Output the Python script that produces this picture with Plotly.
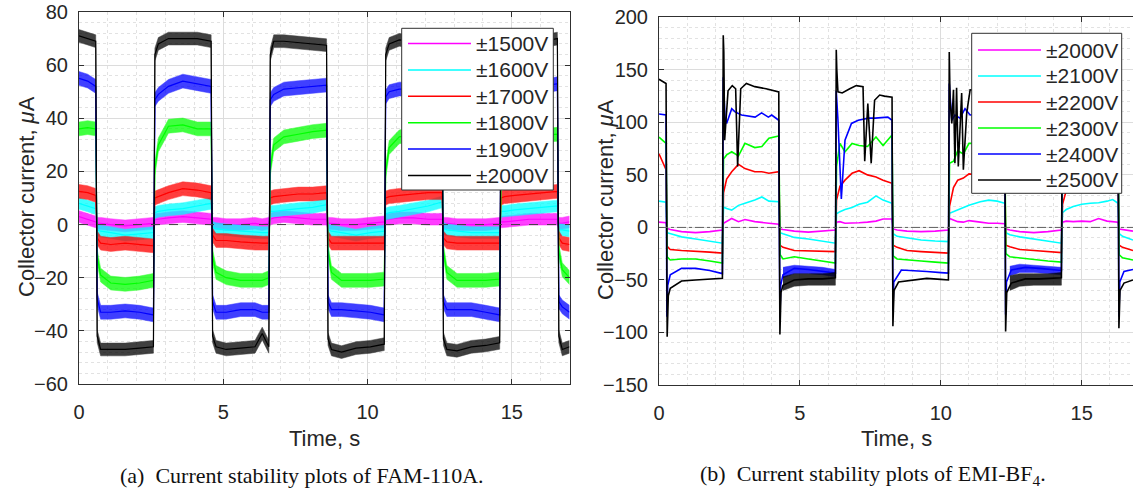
import plotly.graph_objects as go

W, H = 1133, 490
SANS = "Liberation Sans, Arial, sans-serif"
SERIF = "Liberation Serif, Times New Roman, serif"
FRAME = "#303030"
TXT = "#262626"

series_colors = ["#ff00ff", "#00ffff", "#ff0000", "#00ff00", "#0000ff", "#000000"]

# ---------------- (a) FAM-110A ----------------
fam_labels = ["±1500V", "±1600V", "±1700V", "±1800V", "±1900V", "±2000V"]

t_fam = [0.0, 0.3, 0.58,
         0.63, 0.75, 1.1, 1.6, 2.1, 2.58,
         2.63, 2.75, 3.1, 3.6, 4.1, 4.58,
         4.63, 4.75, 5.1, 5.6, 6.1, 6.35, 6.58,
         6.63, 6.75, 7.1, 7.6, 8.1, 8.58,
         8.63, 8.75, 9.1, 9.6, 10.1, 10.58,
         10.63, 10.75, 11.1, 11.6, 12.1, 12.58,
         12.63, 12.75, 13.1, 13.6, 14.1, 14.58,
         14.63, 14.75, 15.1, 15.6, 16.1, 16.58,
         16.63, 16.75, 17.0]

fam_1500 = [3, 2, 1,
            0.5, 0.5, 0, -0.5, 0, 0.5,
            2, 2, 2.5, 3, 2.5, 2,
            0.5, 0.5, 0, 0, 0.5, 0, 0.5,
            2, 2.5, 3, 2.5, 2, 2,
            0.5, 0.5, 0, 0, 0.5, 1,
            2, 2, 2.5, 2.5, 2, 2,
            0.5, 0.5, 0, 0, 0, 0.5,
            1, 1, 1.5, 2, 2, 2,
            0.5, 0.5, 1]
fam_1600 = [8, 7, 6,
            -2, -2.5, -3, -4, -3.5, -3,
            4.5, 5, 5.5, 6, 7, 8,
            -1, -1.5, -2, -2.5, -3, -3, -3,
            5, 5, 5.5, 6, 6.5, 7.5,
            -2, -2.5, -3, -4, -3, -2.5,
            4, 4.5, 5, 6, 7, 8.5,
            -1.5, -2, -2.5, -3, -3, -3,
            5, 5, 5.5, 6, 6.5, 7,
            -2, -2, -2.5]
fam_1700 = [12.5, 12, 11,
            -5, -7, -7.5, -7, -7.5, -8,
            10, 10.5, 12, 13.5, 13, 12,
            -4, -6, -6, -6.5, -7, -7, -7,
            10, 10.5, 11, 11.5, 11.5, 12,
            -5, -7, -7, -7, -7, -7,
            10, 10.5, 11, 11.5, 12, 12,
            -5, -6.5, -7, -7, -7, -7,
            10, 10.5, 11, 11.5, 12, 12.5,
            -5, -7, -7.5]
fam_1800 = [36, 36.5, 36,
            -12, -19, -22, -22.5, -22, -21,
            21, 30, 37, 37.5, 36, 36,
            -12, -18, -20, -21, -21, -21, -20,
            21, 30, 33, 34, 35, 35.5,
            -10, -18, -21, -21, -21, -20.5,
            20, 29, 33, 34, 34.5, 35,
            -10, -18, -21, -21, -21, -20.5,
            20, 29, 33, 33, 33.5, 34,
            -10, -17, -20]
fam_1900 = [55, 54, 52,
            -28, -33, -33, -32.5, -33, -34,
            47, 49, 52, 54, 53, 52,
            -29, -33, -33, -32, -32, -33, -33,
            47, 49, 51, 51.5, 52, 52.5,
            -29, -32, -32, -32.5, -33, -34,
            48, 50, 51, 51, 51, 51,
            -29, -32, -32, -32, -33, -34,
            48, 50, 51, 51, 52, 53,
            -29, -31, -33]
fam_2000 = [71, 70, 69,
            -42, -47, -47, -47, -46.5, -46,
            64, 68, 70, 70, 70, 69,
            -42, -46, -47, -46.5, -46, -41, -46,
            64, 69, 69, 68.5, 68, 67.5,
            -43, -47, -48, -46.5, -46, -45,
            64, 68, 69.5, 69, 69, 69,
            -43, -47, -47.5, -46, -45.5, -44.5,
            64, 68, 69, 69, 69, 70,
            -42, -47, -46]

# half-width of the measurement noise around each FAM-110A trace, μA
fam_noise = [2.2, 2.2, 2.6, 2.6, 2.6, 2.4]

# ---------------- (b) EMI-BF4 ----------------
emi_labels = ["±2000V", "±2100V", "±2200V", "±2300V", "±2400V", "±2500V"]

t_emi = [0.0, 0.25,
         0.29, 0.4, 0.8, 1.3, 1.8, 2.25,
         2.29, 2.4, 2.58, 2.82, 3.05, 3.4, 3.65, 3.9, 4.25,
         4.30, 4.4, 4.8, 5.3, 5.8, 6.26,
         6.30, 6.42, 6.6, 6.85, 7.1, 7.4, 7.7, 7.95, 8.27,
         8.31, 8.45, 8.8, 9.3, 9.8, 10.27,
         10.31, 10.45, 10.6, 10.8, 11.0, 11.4, 11.7, 12.0, 12.27,
         12.31, 12.45, 12.8, 13.3, 13.8, 14.28,
         14.32, 14.45, 14.7, 15.0, 15.3, 15.6, 15.9, 16.1, 16.29,
         16.33, 16.45, 16.82]

emi_2000 = [5, 4.5,
            -1, -2, -4, -5, -4, -2.5,
            4, 6, 8.5, 5.5, 7.5, 5.5, 5, 4, 3,
            -1.5, -2, -3.5, -4.5, -3.5, -2.5,
            5, 5.5, 4, 4, 4.5, 5, 6, 8, 8,
            -1.5, -2.5, -3.5, -4, -3.5, -2.5,
            8.5, 7, 5.5, 5, 6.5, 5, 4, 4, 3.5,
            -1.5, -2.5, -4, -5, -4, -2.5,
            5, 6, 5.5, 6, 5.5, 8.5, 6, 5.5, 5,
            -1.5, -2, -3.5]
emi_2100 = [25, 24,
            -5, -6, -9, -11, -13, -15,
            19.5, 18, 16.5, 21, 23, 26, 29, 25, 24.5,
            -5, -6, -9.5, -11, -13, -15,
            13, 15, 17, 19, 22, 24, 30, 26, 23,
            -6, -8.5, -10, -12, -13, -13.5,
            13.5, 15, 16.5, 19, 21, 24.5, 26, 25, 23,
            -5, -7, -9, -11, -13, -15,
            14, 17, 20, 22, 23, 23.5, 25, 26.5, 23,
            -6, -8.5, -12]
emi_2200 = [70, 55,
            -18, -21, -22, -22.5, -23.5, -24.5,
            33, 46, 53, 60, 56, 53, 53, 51.5, 53,
            -17, -19, -22, -22.5, -23, -23,
            26, 39, 45, 51.5, 54, 50, 48, 45, 42,
            -17, -19, -22, -23, -24, -24.5,
            20, 38, 45, 47, 51, 50, 49, 48, 47,
            -17, -18.5, -21, -22, -23, -24,
            22, 35, 42, 46, 48, 48, 47, 46, 45,
            -17, -19, -22]
emi_2300 = [86, 80,
            -28, -31, -30, -30, -32, -34,
            65, 69, 72, 68, 80, 76, 77, 85, 87,
            -26, -30, -28, -30, -32, -34,
            58, 80, 72, 80, 78, 77, 86, 78, 88,
            -27, -30, -31, -32, -33, -34,
            61, 63, 73, 70, 80, 80, 82, 80, 82,
            -25, -28, -29, -31, -32, -33,
            60, 68, 74, 78, 80, 80, 82, 82, 83,
            -26, -29, -31]

t_emi_2400 = [0.0, 0.25,
              0.28, 0.31, 0.4, 0.8, 1.3, 1.8, 2.25,
              2.28, 2.34, 2.4, 2.58, 2.7, 2.93, 3.2, 3.41, 3.64, 3.88, 4.0, 4.25,
              4.29, 4.32, 4.4, 4.8, 5.3, 5.8, 6.26,
              6.29, 6.35, 6.47, 6.6, 6.83, 7.07, 7.43, 7.67, 8.12, 8.27,
              8.30, 8.33, 8.6, 9.0, 9.5, 10.0, 10.27,
              10.3, 10.39, 10.5, 10.68, 10.86, 11.04, 11.5, 12.0, 12.27,
              12.30, 12.33, 12.5, 13.0, 13.5, 14.0, 14.28,
              14.32, 14.6, 15.0, 15.5, 16.0, 16.29,
              16.32, 16.35, 16.5, 16.82]
emi_2400 = [108, 107,
            -85, -55, -45, -39, -39, -41, -44,
            143, 105, 99, 113, 110, 107, 106, 105, 109, 105, 107, 102,
            -86, -55, -45, -39, -40, -41.5, -43.5,
            130, 102, 27, 83, 99, 102, 104, 104, 105, 102,
            -79, -52, -40.5, -41, -42, -43, -43.5,
            137, 102, 107, 104, 113, 107, 108, 106, 105,
            -83, -52, -40.5, -38, -39, -40, -41,
            130, 104, 106, 107, 106, 105,
            -85, -52, -42, -40]

t_emi_2500 = [0.0, 0.25,
              0.29, 0.33, 0.4, 0.8, 1.3, 1.8, 2.25,
              2.28, 2.30, 2.33, 2.45, 2.6, 2.72, 2.79, 2.9, 3.1, 3.4, 3.8, 4.25,
              4.29, 4.33, 4.4, 4.8, 5.3, 5.8, 6.26,
              6.29, 6.31, 6.35, 6.5, 6.77, 7.0, 7.24, 7.3, 7.41, 7.53, 7.65, 7.83, 8.0, 8.27,
              8.30, 8.34, 8.5, 9.0, 9.5, 10.0, 10.27,
              10.30, 10.33, 10.39, 10.45, 10.5, 10.56, 10.62, 10.74, 10.8, 10.92, 11.04, 11.5, 12.0, 12.27,
              12.30, 12.34, 12.5, 13.0, 13.5, 14.0, 14.28,
              14.32, 14.6, 15.0, 15.5, 16.0, 16.29,
              16.32, 16.36, 16.5, 16.82]
emi_2500 = [141, 137,
            -104, -65, -58, -51, -50, -49, -48.5,
            183, 167, 83, 130, 135, 132, 58, 132, 137, 134, 132, 129,
            -102, -62, -55, -50, -49, -49, -48,
            169, 150, 129, 128, 132, 135, 134, 63, 118, 61, 121, 126, 125, 124,
            -94, -60, -52, -50, -48.5, -49.5, -50,
            167, 120, 99, 131, 61, 133, 58, 128, 55, 109, 131, 130, 128, 127,
            -99, -62, -53, -49, -49, -48.5, -48,
            165, 130, 132, 130, 128, 126,
            -96, -60, -53, -50]

# dense-noise envelopes of the ±2400V / ±2500V negative half-cycles
band_t = [[4.4, 4.8, 5.3, 5.8, 6.26], [12.45, 12.8, 13.3, 13.8, 14.28]]
band_2400_hi = [[-38, -36, -37, -38, -40], [-37, -35, -36, -37, -38]]
band_2400_lo = [[-48, -44, -44, -45, -47], [-46, -43, -43, -44, -45]]
band_2500_hi = [[-47, -44, -44, -44, -43], [-46, -44, -44, -44, -43]]
band_2500_lo = [[-60, -56, -55, -55, -55], [-60, -56, -55, -55, -55]]

fam_series = [(t_fam, fam_1500), (t_fam, fam_1600), (t_fam, fam_1700),
              (t_fam, fam_1800), (t_fam, fam_1900), (t_fam, fam_2000)]
emi_series = [(t_emi, emi_2000), (t_emi, emi_2100), (t_emi, emi_2200),
              (t_emi, emi_2300), (t_emi_2400, emi_2400), (t_emi_2500, emi_2500)]

fig = go.Figure()

# (a): noise ribbon plus centre trace for every bias voltage
for (t, v), spread, name, col in zip(fam_series, fam_noise, fam_labels, series_colors):
    upper = [val + spread for val in v]
    lower = [val - spread for val in v]
    fig.add_trace(go.Scatter(x=list(t) + list(t)[::-1], y=upper + lower[::-1],
                             mode="lines", fill="toself", fillcolor=col, opacity=0.75,
                             line=dict(color=col, width=0.5), xaxis="x", yaxis="y",
                             hoverinfo="skip", showlegend=False))
    fig.add_trace(go.Scatter(x=t, y=v, mode="lines", name=name,
                             line=dict(color=col, width=1.2), xaxis="x", yaxis="y",
                             showlegend=False))

# (b): thin traces, with noise envelopes for the two highest voltages
for (t, v), name, col in zip(emi_series, emi_labels, series_colors):
    if name == "±2400V":
        his, los = band_2400_hi, band_2400_lo
    elif name == "±2500V":
        his, los = band_2500_hi, band_2500_lo
    else:
        his, los = [], []
    for bt, hi, lo in zip(band_t, his, los):
        fig.add_trace(go.Scatter(x=bt + bt[::-1], y=hi + lo[::-1], mode="lines",
                                 fill="toself", fillcolor=col, opacity=0.8,
                                 line=dict(color=col, width=0.5), xaxis="x2", yaxis="y2",
                                 hoverinfo="skip", showlegend=False))
    fig.add_trace(go.Scatter(x=t, y=v, mode="lines", name=name,
                             line=dict(color=col, width=1.6), xaxis="x2", yaxis="y2",
                             showlegend=False))


def px(p):
    return p / W


def py(p):
    return 1 - p / H


FAM_XMAX = 17.0
EMI_XMAX = 16.82


def make_x(domain, xmax, mirror):
    return dict(domain=domain, range=[0, xmax], tickmode="linear", tick0=0, dtick=5,
                showline=True, linecolor=FRAME, linewidth=1, mirror=mirror,
                ticks="inside", ticklen=5, tickcolor=FRAME, automargin=False,
                tickfont=dict(family=SANS, size=20, color=TXT), ticklabelstandoff=10,
                showgrid=True, gridcolor="#dcdcdc", gridwidth=1, zeroline=False,
                minor=dict(dtick=1, showgrid=True, gridcolor="#e2e2e2", griddash="dot"))


def make_y(domain, lo, hi, dtick, mdtick, mirror):
    return dict(domain=domain, range=[lo, hi], tickmode="linear", tick0=0, dtick=dtick,
                showline=True, linecolor=FRAME, linewidth=1, mirror=mirror,
                ticks="inside", ticklen=5, tickcolor=FRAME, automargin=False,
                tickfont=dict(family=SANS, size=20, color=TXT), ticklabelstandoff=6,
                showgrid=True, gridcolor="#dcdcdc", gridwidth=1, zeroline=False,
                minor=dict(dtick=mdtick, showgrid=True, gridcolor="#e2e2e2", griddash="dot"))


xa = make_x([px(79), px(569.5)], FAM_XMAX, "ticks")
xa["anchor"] = "y"
ya = make_y([py(384), py(12)], -60, 80, 20, 4, "ticks")
ya["anchor"] = "x"
xb = make_x([px(659), 1.0], EMI_XMAX, "ticks")
xb["anchor"] = "y2"
yb = make_y([py(385), py(17.3)], -150, 200, 50, 10, False)
yb["anchor"] = "x2"

shapes = [
    dict(type="line", xref="x", yref="y", x0=0, x1=FAM_XMAX, y0=0, y1=0,
         line=dict(color="#404040", width=1, dash="dash"), layer="above"),
    dict(type="line", xref="x2", yref="y2", x0=0, x1=EMI_XMAX, y0=0, y1=0,
         line=dict(color="#606060", width=1, dash="dashdot"), layer="above"),
]
annotations = []


def add_legend(box, first_y, step, line_x, text_x, labels):
    x0, y0, x1, y1 = box
    shapes.append(dict(type="rect", xref="paper", yref="paper",
                       x0=px(x0), x1=px(x1), y0=py(y1), y1=py(y0),
                       fillcolor="white", line=dict(color=FRAME, width=1), layer="above"))
    for i, (lab, col) in enumerate(zip(labels, series_colors)):
        yy = first_y + i * step
        shapes.append(dict(type="line", xref="paper", yref="paper",
                           x0=px(line_x[0]), x1=px(line_x[1]), y0=py(yy), y1=py(yy),
                           line=dict(color=col, width=1.5), layer="above"))
        annotations.append(dict(xref="paper", yref="paper", x=px(text_x), y=py(yy),
                                text=lab, showarrow=False, xanchor="left", yanchor="middle",
                                font=dict(family=SANS, size=21, color=TXT)))


add_legend((401.7, 28.3, 553.3, 190), 43.5, 26.4, (408, 471), 474, fam_labels)
add_legend((971.7, 33.3, 1121.7, 193.3), 50, 26, (978, 1041), 1044, emi_labels)

title_font = dict(family=SANS, size=22, color=TXT)
for xc in (324, 896):
    annotations.append(dict(xref="paper", yref="paper", x=px(xc), y=py(438),
                            text="Time, s", showarrow=False, xanchor="center",
                            yanchor="middle", font=title_font))
for xc, yc in ((27, 197), (605, 200)):
    annotations.append(dict(xref="paper", yref="paper", x=px(xc), y=py(yc),
                            text="Collector current, <i>μ</i>A", showarrow=False,
                            textangle=-90, xanchor="center", yanchor="middle",
                            font=title_font))

cap_font = dict(family=SERIF, size=22, color="#111111")
annotations.append(dict(xref="paper", yref="paper", x=px(302), y=py(475),
                        text="(a)  Current stability plots of FAM-110A.", showarrow=False,
                        xanchor="center", yanchor="middle", font=cap_font))
annotations.append(dict(xref="paper", yref="paper", x=px(873), y=py(475),
                        text="(b)  Current stability plots of EMI-BF<sub>4</sub>.",
                        showarrow=False, xanchor="center", yanchor="middle", font=cap_font))

fig.update_layout(width=W, height=H, autosize=False,
                  margin=dict(l=0, r=0, t=0, b=0, pad=0),
                  paper_bgcolor="white", plot_bgcolor="white",
                  xaxis=xa, yaxis=ya, xaxis2=xb, yaxis2=yb,
                  shapes=shapes, annotations=annotations, showlegend=False)

fig.write_html("out.html")
